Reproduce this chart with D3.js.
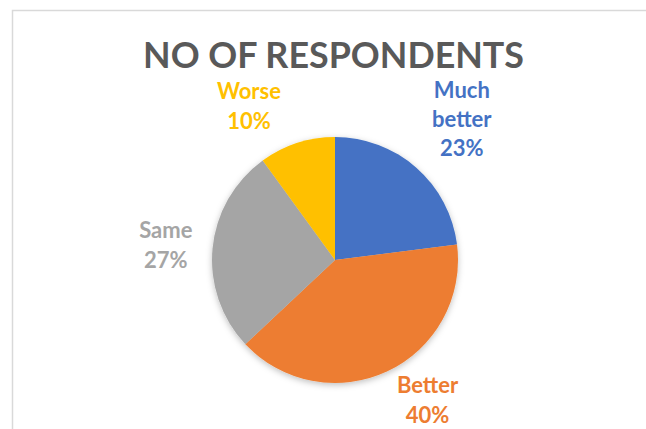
<!DOCTYPE html>
<html>
<head>
<meta charset="utf-8">
<script src="https://cdn.jsdelivr.net/npm/d3@7"></script>
<style>
  html, body { margin: 0; padding: 0; background: #fff; }
  svg { display: block; }
</style>
</head>
<body>
<svg id="chart" width="646" height="429"></svg>
<script>
// ---- data ----
const categories = ["Much better", "Better", "Same", "Worse"];
const values = [23, 40, 27, 10];
const labelLines = [["Much", "better"], ["Better"], ["Same"], ["Worse"]];
const title = "NO OF RESPONDENTS";

// ---- layout / style ----
const colors = ["#4472C4", "#ED7D31", "#A5A5A5", "#FFC000"];
const labelNudge = [[39, -41], [36, 20], [-37, -2], [-45, -27]];
const W = 646, H = 429;
const cx = 335, cy = 260, R = 123;
const fontFamily = "Lato, 'Open Sans', sans-serif";

const svg = d3.select("#chart");

// drop shadow
const defs = svg.append("defs");
const f = defs.append("filter").attr("id", "shadow")
  .attr("x", "-20%").attr("y", "-20%").attr("width", "140%").attr("height", "140%");
f.append("feDropShadow").attr("dx", 0).attr("dy", 2).attr("stdDeviation", 3)
  .attr("flood-color", "#000").attr("flood-opacity", 0.25);

// chart border (top and left visible)
svg.append("rect")
  .attr("x", 12.5).attr("y", 10.5).attr("width", 800).attr("height", 600)
  .attr("fill", "none").attr("stroke", "#D9D9D9").attr("stroke-width", 1.5);

// title
const t = svg.append("text")
  .attr("x", 333.5).attr("y", 68)
  .attr("text-anchor", "middle")
  .attr("font-family", fontFamily).attr("font-weight", 700)
  .attr("font-size", 34).attr("fill", "#595959")
  .text(title);
const tw = t.node().getComputedTextLength();
t.attr("font-size", 34 * 381 / tw);

const pie = d3.pie().sort(null).value(d => d).startAngle(0).endAngle(2 * Math.PI);
const arcs = pie(values);
const arc = d3.arc().innerRadius(0).outerRadius(R);

const g = svg.append("g").attr("transform", `translate(${cx},${cy})`);
g.append("g").attr("filter", "url(#shadow)")
  .selectAll("path").data(arcs).enter().append("path")
  .attr("d", arc)
  .attr("fill", (d, i) => colors[i]);

// labels
const total = d3.sum(values);
const capH = 15;
const labelRadius = R * 1.08;
arcs.forEach((d, i) => {
  const a = (d.startAngle + d.endAngle) / 2;
  const px = Math.sin(a) * labelRadius + labelNudge[i][0];
  const py = -Math.cos(a) * labelRadius + labelNudge[i][1];
  const lines = labelLines[i].concat([Math.round(values[i] / total * 100) + "%"]);
  const n = lines.length;
  const lh = n > 2 ? 29 : 30;
  const text = g.append("text")
    .attr("text-anchor", "middle")
    .attr("font-family", fontFamily).attr("font-weight", 700)
    .attr("font-size", 22).attr("fill", colors[i]);
  lines.forEach((ln, j) => {
    text.append("tspan")
      .attr("x", px)
      .attr("y", py - (n - 1) * lh / 2 + capH / 2 + j * lh)
      .text(ln);
  });
});
</script>
</body>
</html>
